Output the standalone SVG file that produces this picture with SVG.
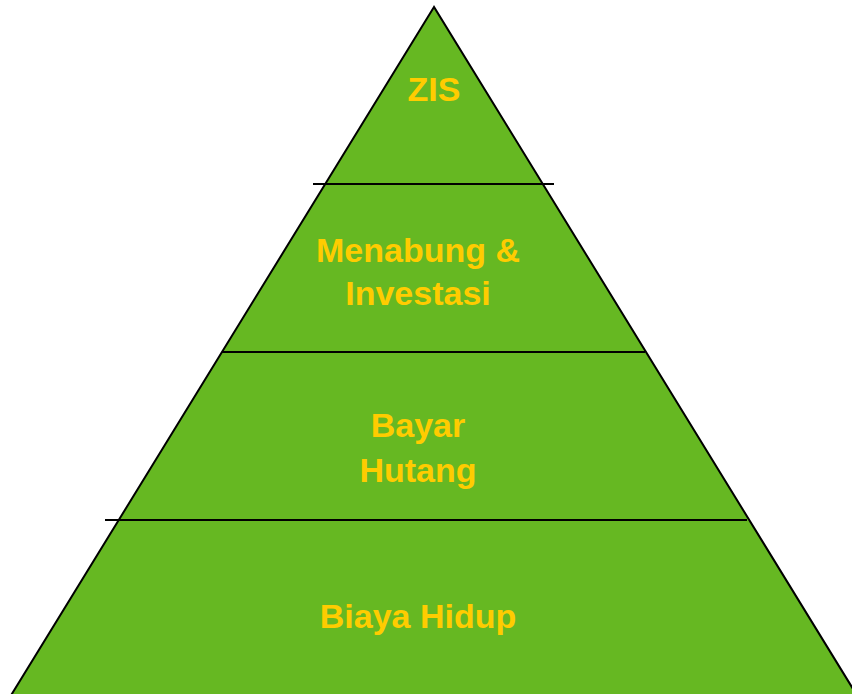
<svg xmlns="http://www.w3.org/2000/svg" width="852" height="694" viewBox="0 0 852 694">
<style>
.t{font-family:"Liberation Sans",Arial,sans-serif;font-size:34px;font-weight:bold;fill:#FFCC00;text-anchor:middle}
.ln{stroke:#000;stroke-width:2;fill:none}
</style>
<rect width="852" height="694" fill="#fff"/>
<g id="pyramid">
<polygon points="434,7 2,710 866,710" fill="#66B822" stroke="#000" stroke-width="2"/>
</g>
<g id="connectors">
<line class="ln" x1="313" y1="184" x2="554" y2="184"/>
<line class="ln" x1="222" y1="352" x2="645" y2="352"/>
<line class="ln" x1="105" y1="520" x2="747" y2="520"/>
</g>
<g id="zis"><text class="t" x="434" y="101">ZIS</text></g>
<g id="menabung"><text class="t" x="418" y="262">Menabung &amp;</text><text class="t" x="418" y="305">Investasi</text></g>
<g id="hutang"><text class="t" x="418" y="437">Bayar</text><text class="t" x="418" y="482">Hutang</text></g>
<g id="hidup"><text class="t" x="418" y="628">Biaya Hidup</text></g>
</svg>
